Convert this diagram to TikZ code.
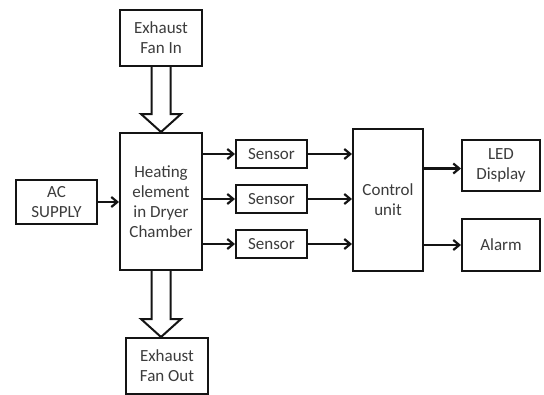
\documentclass[tikz,border=0pt]{standalone}
\usepackage{fontspec}
\setmainfont{Carlito}
\usepackage{tikz}
\usetikzlibrary{arrows.meta,positioning,calc}
\definecolor{lineBlack}{RGB}{20,20,20}
\definecolor{textGray} {RGB}{60,60,60}

\tikzset{
  blk/.style={draw=lineBlack,line width=2pt,fill=white,align=center,
              inner sep=0pt,text=textGray,font=\fontsize{17}{20}\selectfont},
  sig/.style={-{Straight Barb[length=6pt,width=10pt]},draw=lineBlack,line width=2.2pt},
  hollow/.style={draw=lineBlack,line width=2pt,fill=white,line join=miter}
}

\begin{document}
\begin{tikzpicture}[x=1pt,y=-1pt]
  \useasboundingbox[fill=white] (0,0) rectangle (544,394);

  % blocos principais
  \node[blk,minimum width=82,minimum height=56]  (fanin)  at (161,38)    {Exhaust\\Fan In};
  \node[blk,minimum width=82,minimum height=137] (heater) at (161,201.5) {Heating\\element\\in Dryer\\Chamber};
  \node[blk,minimum width=81,minimum height=44]  (ac)     at (56.5,202)  {AC\\SUPPLY};
  \node[blk,minimum width=82,minimum height=56]  (fanout) at (167,366)   {Exhaust\\Fan Out};

  % sensores
  \foreach \i/\y in {1/154, 2/199, 3/244}{
    \node[blk,minimum width=71,minimum height=28] (s\i) at (271.5,\y) {Sensor};
  }

  \node[blk,minimum width=70,minimum height=142] (ctrl)  at (388,200)   {Control\\unit};
  \node[blk,minimum width=78,minimum height=51]  (led)   at (501,165.5) {LED\\Display};
  \node[blk,minimum width=78,minimum height=52]  (alarm) at (501,245)   {Alarm};

  % setas largas (exaustao)
  \draw[hollow] ($(fanin.south)+(-9.5,0)$) -- ($(heater.north)+(-9.5,-18)$)
    -- ($(heater.north)+(-20,-18)$) -- (heater.north) -- ($(heater.north)+(20,-18)$)
    -- ($(heater.north)+(9.5,-18)$) -- ($(fanin.south)+(9.5,0)$);
  \coordinate (outtip) at (heater.south |- fanout.north);
  \draw[hollow] ($(heater.south)+(-9.5,0)$) -- ($(outtip)+(-9.5,-18)$)
    -- ($(outtip)+(-20,-18)$) -- (outtip) -- ($(outtip)+(20,-18)$)
    -- ($(outtip)+(9.5,-18)$) -- ($(heater.south)+(9.5,0)$);

  % sinais
  \draw[sig] (ac.east) -- (ac.east -| heater.west);
  \foreach \i in {1,2,3}{
    \draw[sig] (heater.east |- s\i.west) -- (s\i.west);
    \draw[sig] (s\i.east) -- (s\i.east -| ctrl.west);
  }
  \draw[sig] ($(ctrl.east |- led.west)+(0,3)$) -- ($(led.west)+(0,3)$);
  \draw[sig] (ctrl.east |- alarm.west) -- (alarm.west);
\end{tikzpicture}
\end{document}
